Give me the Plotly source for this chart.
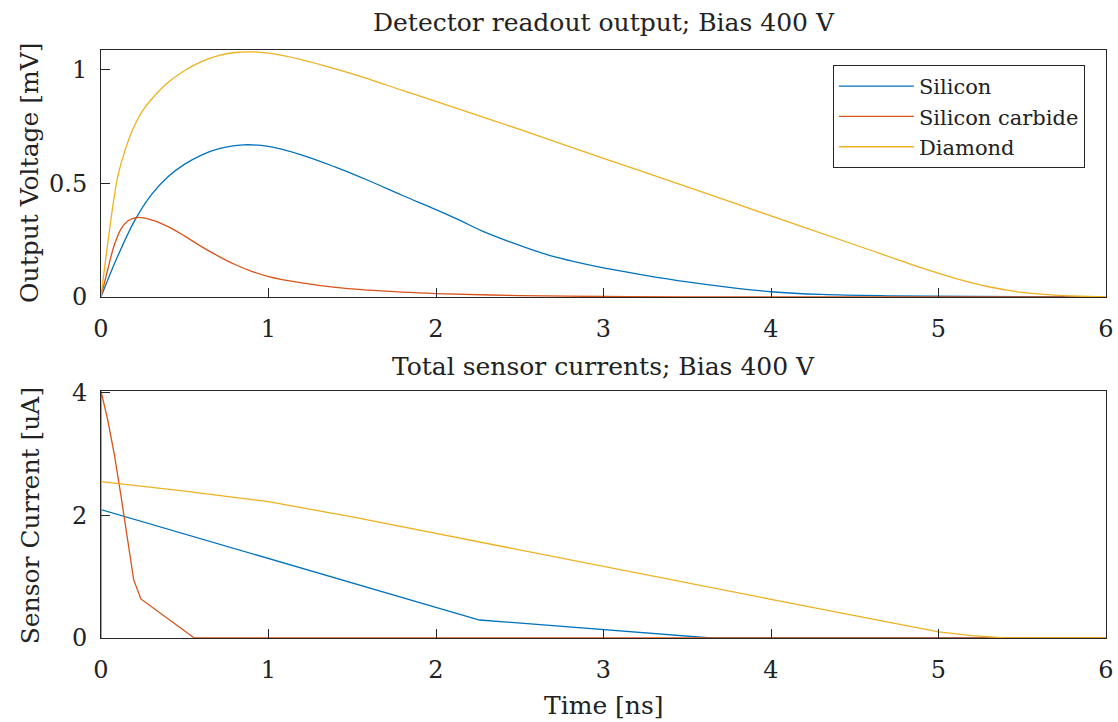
import plotly.graph_objects as go
from plotly.subplots import make_subplots

# ---- data: output voltage (mV) vs time (ns) ----
t_si_v = [0, 0.1, 0.2, 0.3, 0.4, 0.5, 0.6, 0.7, 0.85, 1.0, 1.2, 1.4, 1.6, 1.8, 2.0, 2.15, 2.27, 2.45, 2.663, 2.8, 3.0, 3.25, 3.5, 3.75, 4.0, 4.3, 4.7, 5.2, 6.0]
v_si = [0, 0.18, 0.335, 0.45, 0.53, 0.585, 0.625, 0.652, 0.670, 0.663, 0.625, 0.572, 0.512, 0.447, 0.385, 0.335, 0.292, 0.24, 0.186, 0.16, 0.128, 0.095, 0.066, 0.042, 0.023, 0.011, 0.005, 0.002, 0.0]

t_sic_v = [0, 0.04, 0.08, 0.12, 0.16, 0.215, 0.3, 0.4, 0.5, 0.6, 0.7, 0.8, 0.9, 1.0, 1.2, 1.4, 1.6, 1.8, 2.0, 2.5, 3.0, 3.5, 6.0]
v_sic = [0, 0.12, 0.23, 0.30, 0.335, 0.350, 0.340, 0.31, 0.268, 0.222, 0.18, 0.143, 0.113, 0.09, 0.062, 0.042, 0.030, 0.021, 0.015, 0.006, 0.002, 0.0007, 0.0]

t_dia_v = [0, 0.05, 0.1, 0.15, 0.2, 0.25, 0.3, 0.4, 0.5, 0.6, 0.7, 0.8, 0.9, 1.0, 1.2, 1.4, 1.6, 1.8, 2.0, 2.5, 3.0, 3.5, 4.0, 4.5, 4.9, 5.1, 5.3, 5.5, 5.7, 5.9, 6.0]
v_dia = [0, 0.29, 0.53, 0.66, 0.755, 0.822, 0.87, 0.945, 0.998, 1.037, 1.063, 1.077, 1.080, 1.074, 1.045, 1.005, 0.96, 0.91, 0.862, 0.738, 0.611, 0.485, 0.357, 0.23, 0.128, 0.082, 0.045, 0.02, 0.008, 0.002, 0.001]

# ---- data: sensor current (uA) vs time (ns) ----
t_si_i = [0, 0, 2.26, 3.0, 3.64, 6.0]
i_si = [0, 2.09, 0.293, 0.135, 0, 0]

t_sic_i = [0, 0, 0.04, 0.08, 0.12, 0.155, 0.195, 0.238, 0.557, 6.0]
i_sic = [0, 4.02, 3.55, 2.98, 2.30, 1.66, 0.95, 0.636, 0, 0]

t_dia_i = [0, 0, 0.5, 1.0, 1.5, 2.0, 3.0, 4.0, 5.0, 5.2, 5.4, 6.0]
i_dia = [0, 2.545, 2.39, 2.22, 1.97, 1.70, 1.17, 0.63, 0.10, 0.04, 0, 0]

names = ["Silicon", "Silicon carbide", "Diamond"]
colors = ["#0072BD", "#D95319", "#EDB120"]
x_ticks = [0, 1, 2, 3, 4, 5, 6]

FONT = "DejaVu Serif"
AX = "#262626"

fig = make_subplots(rows=2, cols=1, vertical_spacing=0.16)

top = [(t_si_v, v_si), (t_sic_v, v_sic), (t_dia_v, v_dia)]
bot = [(t_si_i, i_si), (t_sic_i, i_sic), (t_dia_i, i_dia)]
for k in range(3):
    fig.add_trace(go.Scatter(x=top[k][0], y=top[k][1], mode="lines", name=names[k],
                             line=dict(color=colors[k], width=1.3, shape="spline", smoothing=1.0)),
                  row=1, col=1)
for k in range(3):
    fig.add_trace(go.Scatter(x=bot[k][0], y=bot[k][1], mode="lines", name=names[k], showlegend=False,
                             line=dict(color=colors[k], width=1.3)),
                  row=2, col=1)

axis_common = dict(showline=True, linecolor=AX, linewidth=1, mirror=True, ticks="inside",
                   ticklen=9, tickwidth=1, tickcolor=AX, showgrid=False, zeroline=False,
                   automargin=False,
                   tickfont=dict(family=FONT, size=24, color="#222"))

fig.update_xaxes(range=[0, 6], tickvals=x_ticks, ticklabelstandoff=10, **axis_common)
fig.update_yaxes(ticklabelstandoff=8, **axis_common)
fig.update_yaxes(range=[0, 1.088], tickvals=[0, 0.5, 1], ticktext=["0", "0.5", "1"], row=1, col=1)
fig.update_yaxes(range=[0, 4.02], tickvals=[0, 2, 4], row=2, col=1)

fig.update_layout(
    width=1118, height=722,
    margin=dict(l=101, r=12, t=50, b=84, autoexpand=False),
    paper_bgcolor="white", plot_bgcolor="white",
    yaxis=dict(domain=[0.58, 1.0]),
    yaxis2=dict(domain=[0.0, 0.42]),
    font=dict(family=FONT, color="#222"),
    legend=dict(x=0.979, y=0.9745, xanchor="right", yanchor="top",
                bordercolor=AX, borderwidth=1, bgcolor="white",
                font=dict(family=FONT, size=21, color="#222"),
                tracegroupgap=0, itemwidth=75),
    showlegend=True,
)

ann = dict(xref="paper", yref="paper", showarrow=False, font=dict(family=FONT, size=25, color="#222"))
fig.add_annotation(text="Detector readout output; Bias 400 V", x=0.5, y=1.0476, yanchor="middle", **ann)
fig.add_annotation(text="Total sensor currents; Bias 400 V", x=0.5, y=0.4609, yanchor="middle", **ann)
fig.add_annotation(text="Time [ns]", x=0.5, y=-0.114, yanchor="middle", **ann)
fig.add_annotation(text="Output Voltage [mV]", x=-0.0706, y=0.791, textangle=-90, xanchor="center", yanchor="middle", **ann)
fig.add_annotation(text="Sensor Current [uA]", x=-0.0706, y=0.207, textangle=-90, xanchor="center", yanchor="middle", **ann)

fig.write_html("out.html", config={"displayModeBar": False},
               post_script="document.body.style.margin='0';document.body.style.overflow='hidden';")
